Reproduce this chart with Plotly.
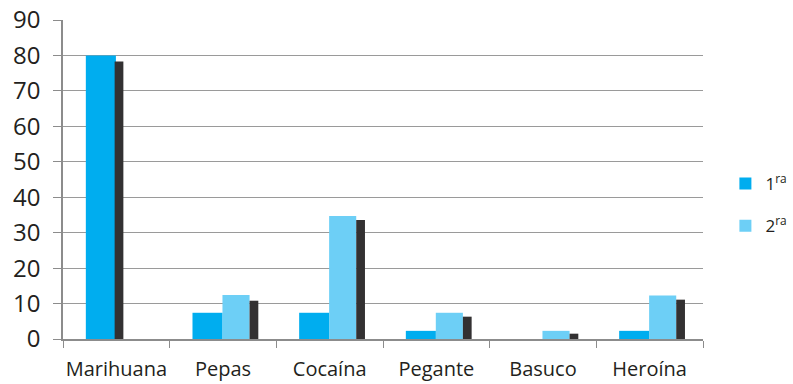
import plotly.graph_objects as go

categories = ["Marihuana", "Pepas", "Cocaína", "Pegante", "Basuco", "Heroína"]
serie_1ra = [80, 7.4, 7.4, 2.3, 0, 2.3]
serie_2ra = [0, 12.4, 34.7, 7.4, 2.3, 12.3]
serie_sombra = [78.3, 10.8, 33.6, 6.3, 1.5, 11.1]
y_ticks = list(range(0, 91, 10))

font_fam = "Open Sans, Noto Sans, sans-serif"
txt = "#231f20"

# shadow bar sits right after the last visible bar of each group
off1, w1 = -0.286, 0.27
off2, w2 = -0.005, 0.254
sombra_off = [off2 + w2 if v2 > 0 else off1 + w1 for v2 in serie_2ra]

fig = go.Figure()
fig.add_trace(go.Bar(x=categories, y=serie_1ra, name="1<sup>ra</sup>", marker_color="#00adef",
                     marker_line_width=0, width=w1 + 0.012, offset=off1, legendgroup="a"))
fig.add_trace(go.Bar(x=categories, y=serie_2ra, name="2<sup>ra</sup>", marker_color="#6dcff6",
                     marker_line_width=0, width=w2, offset=off2, legendgroup="b"))
fig.add_trace(go.Bar(x=categories, y=serie_sombra, name="", marker_color="#333132",
                     marker_line_width=0, width=0.082, offset=sombra_off, showlegend=False))

fig.update_layout(
    width=793, height=384,
    margin=dict(l=63, r=90, t=20, b=45, autoexpand=False),
    barmode="overlay",
    plot_bgcolor="white", paper_bgcolor="white",
    font=dict(family=font_fam, color=txt),
    showlegend=True,
    legend=dict(x=1.035, y=0.42, xanchor="left", yanchor="middle",
                font=dict(size=17, color=txt), tracegroupgap=17,
                itemwidth=30, bgcolor="rgba(0,0,0,0)"),
)
fig.update_xaxes(
    showline=True, linecolor="#8c8c8c", linewidth=1.5,
    ticks="outside", tickson="boundaries", ticklen=7, tickcolor="#8c8c8c",
    tickfont=dict(size=20, color=txt), showgrid=False, tickangle=0, automargin=False,
    ticklabelstandoff=11,
)
fig.update_yaxes(
    range=[0, 90], tickvals=y_ticks, showline=True, linecolor="#8c8c8c", linewidth=1.5,
    ticks="outside", ticklen=8, tickcolor="#8c8c8c",
    gridcolor="#9a9a9a", gridwidth=1.2, zeroline=False, automargin=False,
    tickfont=dict(size=24, color=txt), ticklabelstandoff=8,
)
fig.write_html("out.html")
